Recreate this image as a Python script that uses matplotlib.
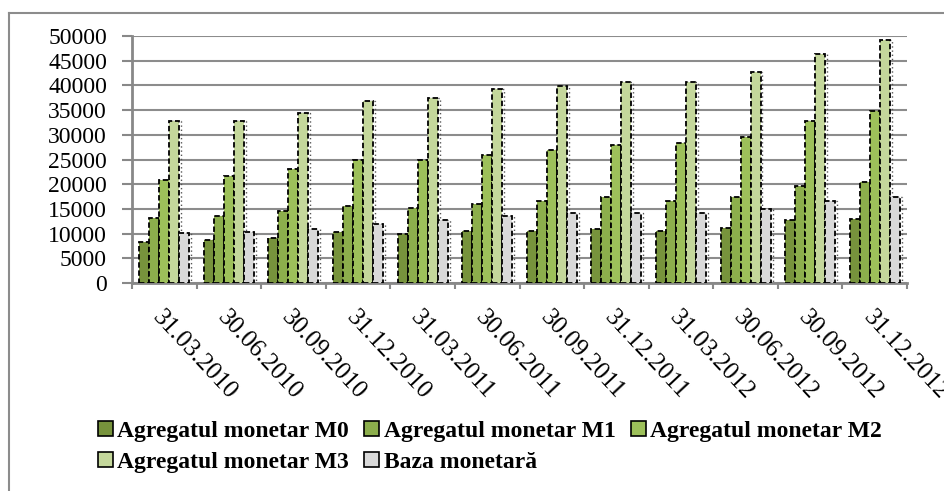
import numpy as np
import matplotlib
matplotlib.use("Agg")
import matplotlib.pyplot as plt
from matplotlib.lines import Line2D

# values
dates = ["31.03.2010", "30.06.2010", "30.09.2010", "31.12.2010",
         "31.03.2011", "30.06.2011", "30.09.2011", "31.12.2011",
         "31.03.2012", "30.06.2012", "30.09.2012", "31.12.2012"]
m0 = [8400, 8700, 9200, 10300, 9900, 10500, 10500, 10900, 10500, 11200, 12800, 13000]
m1 = [13100, 13600, 14600, 15600, 15100, 15900, 16700, 17500, 16700, 17500, 19600, 20400]
m2 = [20900, 21700, 23000, 24800, 25000, 26000, 26900, 27900, 28400, 29500, 32800, 34800]
m3 = [32700, 32700, 34400, 36900, 37400, 39200, 39800, 40700, 40600, 42700, 46400, 49200]
baza = [10100, 10300, 11000, 12000, 12800, 13600, 14100, 14100, 14100, 14900, 16700, 17500]

series_names = ["Agregatul monetar M0", "Agregatul monetar M1", "Agregatul monetar M2",
                "Agregatul monetar M3", "Baza monetară"]
colors = ["#77933C", "#8CAE4C", "#9DC05A", "#C4D79B", "#D9D9D9"]

plt.rcParams["font.family"] = ["Liberation Serif", "DejaVu Serif"]

fig = plt.figure(figsize=(9.45, 4.91), dpi=100)
ax = fig.add_axes([132 / 945, 1 - 283 / 491, (907 - 132) / 945, (283 - 36) / 491])

x = np.arange(len(dates))
w = 0.155
all_series = [m0, m1, m2, m3, baza]
handles = []
for i, (vals, col, name) in enumerate(zip(all_series, colors, series_names)):
    off = (i - 2) * w
    # dotted "shadow" outline like the original office chart
    ax.bar(x + off + 0.03, vals, w, color="none", edgecolor="#555555",
           linewidth=1.0, linestyle=(0, (1, 2)), zorder=2)
    b = ax.bar(x + off, vals, w, color=col, edgecolor="black",
               linewidth=1.3, linestyle=(0, (3, 1.5)), zorder=3, label=name)
    handles.append(b)

ax.set_xlim(-0.5, len(dates) - 0.5)
ax.set_ylim(0, 50000)
ax.set_yticks(np.arange(0, 50001, 5000))
ax.tick_params(axis="y", labelsize=17, length=7, width=1.5, color="#888888", pad=11)
ax.grid(axis="y", color="#8c8c8c", linewidth=1.5, zorder=0)
ax.set_axisbelow(True)

# group boundaries carry the tick marks, labels sit at group centers
ax.set_xticks(np.arange(-0.5, len(dates), 1.0))
ax.set_xticklabels([])
ax.tick_params(axis="x", length=4, width=1.5, color="#888888")
for xi, lab in zip(x, dates):
    ax.annotate(lab, xy=(xi, 0), xycoords=("data", "axes fraction"),
                xytext=(0, -17), textcoords="offset points", rotation=-47,
                ha="left", va="top", rotation_mode="anchor", fontsize=18,
                annotation_clip=False)

for side in ["top", "right"]:
    ax.spines[side].set_visible(False)
for side in ["left", "bottom"]:
    ax.spines[side].set_color("#888888")
    ax.spines[side].set_linewidth(2)

# legend is filled column by column, so order it to read row by row
order = [0, 3, 1, 4, 2]
leg = fig.legend(handles=[handles[k] for k in order],
                 labels=[series_names[k] for k in order], ncol=3, frameon=False,
                 loc="upper left", bbox_to_anchor=(98 / 945, 1 - 421 / 491),
                 prop={"family": "Liberation Serif", "weight": "bold", "size": 17},
                 handlelength=0.62, handleheight=0.62, handletextpad=0.2,
                 columnspacing=0.65, labelspacing=0.42, borderpad=0, borderaxespad=0)
for h in leg.legend_handles:
    h.set_linestyle("-")
    h.set_linewidth(1.2)

# outer chart frame (top and left edges are visible)
fig.add_artist(Line2D([9 / 945, 1.0], [1 - 12.5 / 491] * 2, color="#8c8c8c", lw=1.5))
fig.add_artist(Line2D([9 / 945] * 2, [0, 1 - 12.5 / 491], color="#8c8c8c", lw=1.5))

fig.savefig("out.png", dpi=100)
